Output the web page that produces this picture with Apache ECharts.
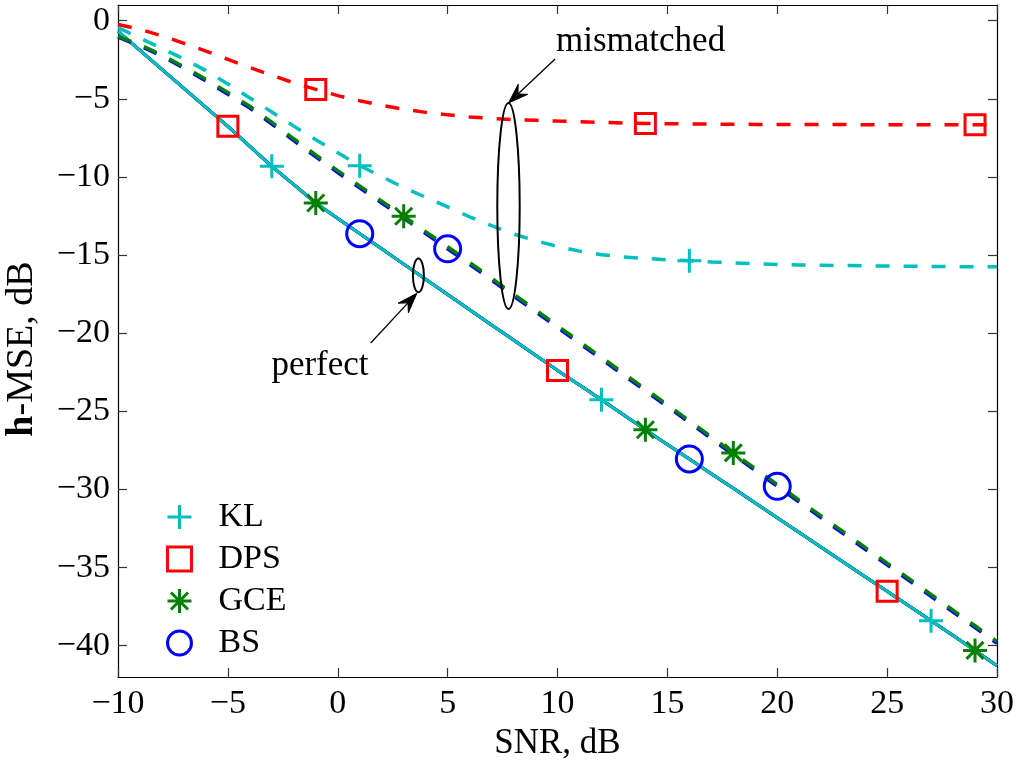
<!DOCTYPE html>
<html>
<head>
<meta charset="utf-8">
<script src="https://cdn.jsdelivr.net/npm/echarts@6/dist/echarts.min.js"></script>
<style>
html,body{margin:0;padding:0;background:#fff;}
#chart{width:1024px;height:760px;}
</style>
</head>
<body>
<div id="chart"></div>
<script>
// SNR grid (dB)
const snr = [-10,-9,-8,-7,-6,-5,-4,-3,-2,-1,0,1,2,3,4,5,6,7,8,9,10,11,12,13,14,15,16,17,18,19,20,21,22,23,24,25,26,27,28,29,30];
// perfect (all four estimators coincide)
const perfectMSE = [-0.69,-1.9,-3.12,-4.33,-5.55,-6.76,-8.04,-9.32,-10.5,-11.67,-12.66,-13.63,-14.6,-15.58,-16.55,-17.52,-18.5,-19.47,-20.44,-21.41,-22.38,-23.32,-24.26,-25.22,-26.18,-27.12,-28.05,-28.99,-29.93,-30.87,-31.81,-32.75,-33.7,-34.64,-35.58,-36.52,-37.46,-38.4,-39.35,-40.3,-41.28];
// mismatched
const mismatchDPS = [-0.25,-0.55,-0.97,-1.45,-1.95,-2.48,-3.0,-3.5,-3.98,-4.4,-4.8,-5.13,-5.42,-5.67,-5.87,-6.03,-6.16,-6.26,-6.33,-6.38,-6.43,-6.47,-6.51,-6.55,-6.58,-6.6,-6.61,-6.62,-6.63,-6.64,-6.64,-6.65,-6.65,-6.65,-6.66,-6.66,-6.66,-6.66,-6.67,-6.67,-6.67];
const mismatchKL = [-0.45,-1.12,-1.78,-2.45,-3.2,-4.05,-4.95,-5.85,-6.75,-7.62,-8.45,-9.28,-9.98,-10.68,-11.3,-11.92,-12.55,-13.12,-13.65,-14.08,-14.45,-14.75,-14.98,-15.12,-15.22,-15.3,-15.36,-15.44,-15.5,-15.56,-15.6,-15.63,-15.65,-15.67,-15.69,-15.7,-15.72,-15.73,-15.74,-15.75,-15.75];
const mismatchGCE = [-1.0,-1.55,-2.2,-2.95,-3.76,-4.6,-5.48,-6.5,-7.56,-8.6,-9.6,-10.58,-11.55,-12.52,-13.5,-14.47,-15.47,-16.48,-17.5,-18.5,-19.52,-20.53,-21.54,-22.56,-23.57,-24.58,-25.6,-26.63,-27.66,-28.67,-29.68,-30.69,-31.7,-32.7,-33.71,-34.71,-35.71,-36.72,-37.72,-38.72,-39.72];
const mismatchBS = [-1.05,-1.62,-2.28,-3.04,-3.86,-4.71,-5.6,-6.62,-7.68,-8.72,-9.72,-10.7,-11.67,-12.64,-13.62,-14.6,-15.59,-16.6,-17.62,-18.62,-19.64,-20.65,-21.66,-22.68,-23.69,-24.7,-25.72,-26.75,-27.78,-28.79,-29.8,-30.81,-31.82,-32.82,-33.83,-34.83,-35.83,-36.84,-37.84,-38.84,-39.84];
// marker SNR positions
const klPerfectAt = [-3,12,27],  klMismatchAt = [1,16];
const dpsPerfectAt = [-5,10,25], dpsMismatchAt = [-1,14,29];
const gcePerfectAt = [-1,14,29], gceMismatchAt = [3,18];
const bsPerfectAt = [1,16],      bsMismatchAt = [5,20];
// ticks
const xTicks = [-10,-5,0,5,10,15,20,25,30];
const yTicks = [0,-5,-10,-15,-20,-25,-30,-35,-40];

const FONT = '"Liberation Serif", "Times New Roman", serif';
const C = {KL:'#00BFBF', DPS:'#FF0000', GCE:'#008000', BS:'#0000FF'};
const SYM = {
  KL: 'path://M12,0L12,24M0,12L24,12',
  DPS: 'rect',
  GCE: 'path://M12,0L12,24M0,12L24,12M3.5,3.5L20.5,20.5M3.5,20.5L20.5,3.5',
  BS: 'circle'
};
const SIZE = {KL:24, DPS:20, GCE:24, BS:26};

const pairs = (ys) => snr.map((x,i)=>[x, ys[i]]);
const pick = (ys, at) => at.map(x => [x, ys[snr.indexOf(x)]]);
const minus = v => String(v).replace('-', '\u2212');

function lineSeries(ys, color, dashed, z){
  return {type:'line', data:pairs(ys), showSymbol:false, symbol:'none', silent:true, z:z,
    lineStyle:{color:color, width: dashed?3.5:3, type: dashed?[14,14]:'solid'}, animation:false};
}
function markerSeries(name, pts){
  return {type:'scatter', name:name, data:pts, symbol:SYM[name], symbolSize:SIZE[name], z:10,
    itemStyle:{color:'transparent', borderColor:C[name], borderWidth:3, opacity:1}, animation:false};
}

const chart = echarts.init(document.getElementById('chart'), null, {renderer:'canvas'});
const tickStyle = {show:true, inside:true, length:9, lineStyle:{color:'#333', width:1.2}};
const axisCommon = {
  axisLine:{show:true, onZero:false, lineStyle:{color:'#000', width:1.2}},
  axisTick:tickStyle,
  splitLine:{show:false}
};
chart.setOption({
  animation:false,
  backgroundColor:'#fff',
  grid:{left:118, right:27, top:5, bottom:83, containLabel:false, outerBoundsMode:'none'},
  xAxis:[
    Object.assign({type:'value', min:-10, max:30, interval:5, position:'bottom',
      name:'SNR, dB', nameLocation:'middle', nameGap:46,
      nameTextStyle:{fontFamily:FONT, fontSize:35, color:'#000'},
      axisLabel:{fontFamily:FONT, fontSize:34, color:'#000', margin:10, formatter:minus}}, axisCommon),
    Object.assign({type:'value', min:-10, max:30, interval:5, position:'top',
      axisLabel:{show:false}}, axisCommon)
  ],
  yAxis:[
    Object.assign({type:'value', min:-42, max:1, position:'left',
      name:'{b|h}-MSE, dB', nameLocation:'middle', nameGap:77, nameRotate:90,
      nameTextStyle:{fontFamily:FONT, fontSize:38, color:'#000', padding:[0,16,0,0],
        rich:{b:{fontFamily:FONT, fontSize:38, fontWeight:'bold', color:'#000'}}},
      axisLabel:{fontFamily:FONT, fontSize:34, color:'#000', margin:8, formatter:minus, customValues:yTicks}},
      axisCommon, {axisTick:Object.assign({customValues:yTicks}, tickStyle)}),
    Object.assign({type:'value', min:-42, max:1, position:'right',
      axisLabel:{show:false}},
      axisCommon, {axisTick:Object.assign({customValues:yTicks}, tickStyle)})
  ],
  legend:{
    orient:'vertical', left:161, top:495, itemWidth:24, itemHeight:24, itemGap:8,
    textStyle:{fontFamily:FONT, fontSize:34, color:'#000', lineHeight:34, padding:[0,0,0,22]},
    data:['KL','DPS','GCE','BS'].map(n=>({name:n, icon:SYM[n],
      itemStyle:{color:'transparent', borderColor:C[n], borderWidth:3}}))
  },
  series:[
    lineSeries(perfectMSE, C.DPS, false, 2),
    lineSeries(perfectMSE, C.GCE, false, 2),
    lineSeries(perfectMSE, C.BS, false, 2),
    lineSeries(perfectMSE, C.KL, false, 3),
    lineSeries(mismatchDPS, C.DPS, true, 4),
    lineSeries(mismatchKL, C.KL, true, 4),
    lineSeries(mismatchBS, C.BS, true, 4),
    lineSeries(mismatchGCE, C.GCE, true, 5),
    markerSeries('KL', pick(perfectMSE, klPerfectAt).concat(pick(mismatchKL, klMismatchAt))),
    markerSeries('DPS', pick(perfectMSE, dpsPerfectAt).concat(pick(mismatchDPS, dpsMismatchAt))),
    markerSeries('GCE', pick(perfectMSE, gcePerfectAt).concat(pick(mismatchGCE, gceMismatchAt))),
    markerSeries('BS', pick(perfectMSE, bsPerfectAt).concat(pick(mismatchBS, bsMismatchAt)))
  ]
});

// annotations in data coordinates
const annotations = {
  mismatched: {text:[13.78,-1.34], tail:[9.89,-2.45], tip:[7.77,-5.27], ell:[7.77,-11.86,0.51,6.59]},
  perfect: {text:[-0.81,-22.08], tail:[1.5,-20.63], tip:[3.6,-17.45], ell:[3.67,-16.3,0.25,1.075]}
};
const toPx = p => chart.convertToPixel({xAxisIndex:0, yAxisIndex:0}, p);
const graphics = [];
Object.keys(annotations).forEach(key=>{
  const a = annotations[key];
  const c = toPx([a.ell[0], a.ell[1]]);
  const e1 = toPx([a.ell[0]+a.ell[2], a.ell[1]+a.ell[3]]);
  graphics.push({type:'ellipse', shape:{cx:c[0], cy:c[1], rx:Math.abs(e1[0]-c[0]), ry:Math.abs(e1[1]-c[1])},
    style:{fill:'none', stroke:'#000', lineWidth:2}, z:20});
  const t = toPx(a.tail), h = toPx(a.tip);
  const dx = h[0]-t[0], dy = h[1]-t[1], len = Math.hypot(dx,dy);
  const ux = dx/len, uy = dy/len, nx = -uy, ny = ux;
  const L = 20, W = 7;
  graphics.push({type:'line', shape:{x1:t[0], y1:t[1], x2:h[0]-ux*L*0.6, y2:h[1]-uy*L*0.6},
    style:{stroke:'#000', lineWidth:1.3}, z:20});
  graphics.push({type:'polygon', shape:{points:[
    [h[0],h[1]],
    [h[0]-ux*L+nx*W, h[1]-uy*L+ny*W],
    [h[0]-ux*L*0.65, h[1]-uy*L*0.65],
    [h[0]-ux*L-nx*W, h[1]-uy*L-ny*W]
  ]}, style:{fill:'#000', stroke:'#000', lineWidth:1}, z:20});
  const tp = toPx(a.text);
  graphics.push({type:'text', x:tp[0], y:tp[1], z:20,
    style:{text:key, fontFamily:FONT, fontSize:35, fill:'#000', align:'center', verticalAlign:'middle'}});
});
chart.setOption({graphic:graphics});
</script>
</body>
</html>
